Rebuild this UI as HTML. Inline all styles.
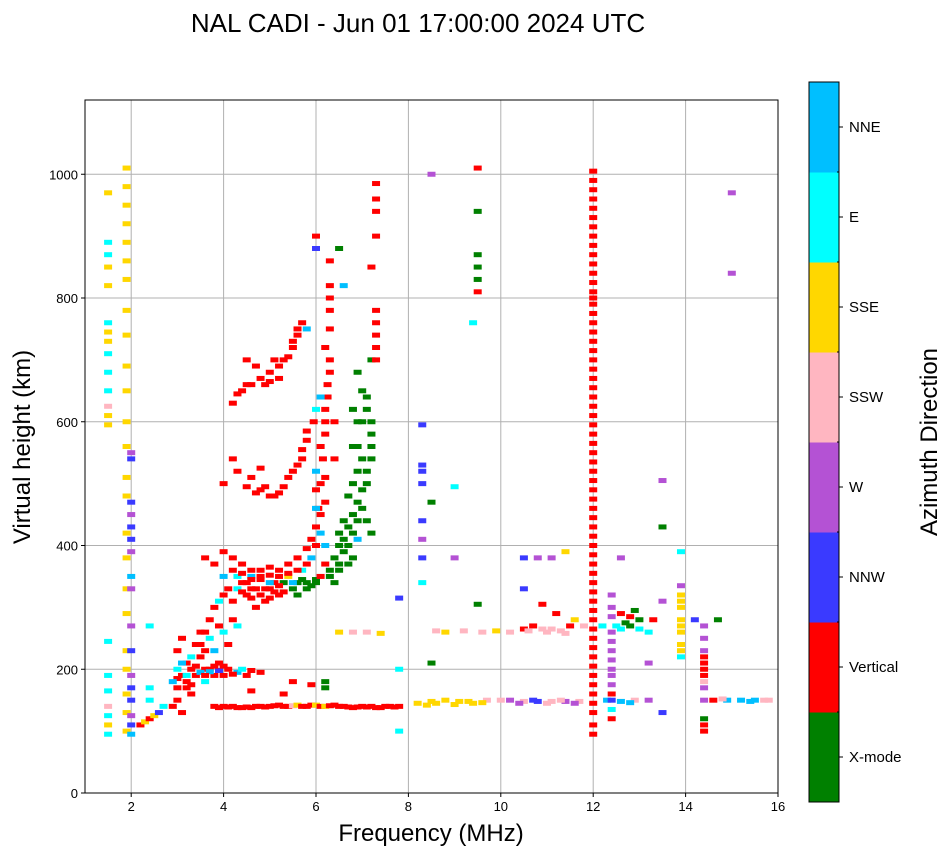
<!DOCTYPE html>
<html><head><meta charset="utf-8"><style>
html,body{margin:0;padding:0;background:#fff;}
svg text{font-family:"Liberation Sans",sans-serif;}
</style></head><body>
<svg id="chart" width="951" height="856" xmlns="http://www.w3.org/2000/svg">
<text x="418" y="32" font-size="26" text-anchor="middle">NAL CADI - Jun 01 17:00:00 2024 UTC</text>
<g id="grid"></g>
<g id="marks"></g>
<rect x="85" y="100" width="693" height="693" fill="none" stroke="#000" stroke-width="1"/>
<g id="axes"></g>
<text x="431" y="841" font-size="24" text-anchor="middle">Frequency (MHz)</text>
<text x="30" y="447" font-size="24" text-anchor="middle" transform="rotate(-90 30 447)">Virtual height (km)</text>
<g id="cbar"></g>
<text x="937" y="442" font-size="24" text-anchor="middle" transform="rotate(-90 937 442)">Azimuth Direction</text>
</svg>
<script>
const dirNames=["X-mode","Vertical","NNW","W","SSW","SSE","E","NNE"];
const dirColors=["#008000","#ff0000","#3a3aff","#b452d4","#ffb6c1","#ffd700","#00ffff","#00bfff"];
const xTicks=[2,4,6,8,10,12,14,16];
const yTicks=[0,200,400,600,800,1000];
// echoes: [freq MHz, height km, direction index]
const col15=[[1.5,95,6],[1.5,110,5],[1.5,125,6],[1.5,140,4],[1.5,165,6],[1.5,190,6],[1.5,245,6],[1.5,595,5],[1.5,610,5],[1.5,625,4],[1.5,650,6],[1.5,680,6],[1.5,710,6],[1.5,730,5],[1.5,745,5],[1.5,760,6],[1.5,820,5],[1.5,850,5],[1.5,870,6],[1.5,890,6],[1.5,970,5]];
const col19=[[1.9,100,5],[1.9,130,5],[1.9,160,5],[1.9,200,5],[1.9,230,5],[1.9,290,5],[1.9,330,5],[1.9,380,5],[1.9,420,5],[1.9,480,5],[1.9,510,5],[1.9,560,5],[1.9,600,5],[1.9,650,5],[1.9,690,5],[1.9,740,5],[1.9,780,5],[1.9,830,5],[1.9,860,5],[1.9,890,5],[1.9,920,5],[1.9,950,5],[1.9,980,5],[1.9,1010,5],
[2.0,95,7],[2.0,110,2],[2.0,125,3],[2.0,150,2],[2.0,170,2],[2.0,190,3],[2.0,230,2],[2.0,270,3],[2.0,330,3],[2.0,350,7],[2.0,390,3],[2.0,410,2],[2.0,430,2],[2.0,450,3],[2.0,470,2],[2.0,540,2],[2.0,550,3]];
const eLayer=[[2.2,110,1],[2.3,115,5],[2.4,120,1],[2.5,125,5],[2.6,130,2],[2.7,140,6],[2.4,150,6],[2.4,170,6],[2.4,270,6],[2.9,140,1],[3.0,150,1],[3.0,170,1],[3.1,190,1],[3.2,180,1],[3.2,210,1],[3.3,200,1],[3.4,190,1],[3.5,220,1],[3.6,180,6],[3.6,200,1],[3.7,200,1],[3.8,190,1],[3.9,210,1],[4.0,190,1],[3.3,160,1],[3.1,130,1],[3.0,200,6],[3.5,195,7],[3.7,196,7],[3.9,198,2],[4.1,200,1],[4.3,195,7],[4.5,190,1],[4.8,195,1],
[3.0,230,1],[3.1,250,1],[3.2,170,1],[3.3,220,6],[3.4,240,1],[3.5,260,1],[3.6,230,1],[3.7,250,6],[3.8,230,7],[3.9,270,1],[4.0,260,6],[4.1,240,1],[4.2,280,1],[4.3,270,6],[3.1,210,7],[3.2,190,6],[3.4,205,1],[3.6,190,1],[3.8,205,1],[4.0,205,1],[4.2,192,1],[4.4,200,6],[4.6,198,1],[3.0,185,1],[3.3,175,1],[2.9,180,7]];
const e2=[[3.8,140,1],[3.9,138,1],[4.0,140,1],[4.1,139,1],[4.2,140,1],[4.3,138,1],[4.4,138,1],[4.5,139,1],[4.6,138,1],[4.7,140,1],[4.8,140,1],[4.9,139,1],[5.0,140,1],[5.1,141,1],[5.2,142,1],[5.3,140,1],[5.4,140,1],[5.5,141,4],[5.6,142,5],[5.7,140,1],[5.8,140,1],[5.9,142,1],[6.0,142,5],[6.1,140,1],[6.2,140,5],[6.3,141,1],[6.4,142,1],[6.5,140,1],[6.6,140,1],[6.7,139,1],[6.8,138,1],[6.9,139,1],[7.0,140,1],[7.1,139,1],[7.2,140,1],[7.3,138,1],[7.4,138,1],[7.5,140,1],[7.6,140,1],[7.7,139,1],[7.8,140,1],[5.5,180,1],[5.9,175,1],[6.2,170,0],[6.2,180,0],[5.3,160,1],[4.6,165,1]];
const fTrace=[[3.5,240,1],[3.6,260,1],[3.7,280,1],[3.8,300,1],[3.9,310,6],[4.0,320,1],[4.1,330,1],[4.2,310,1],[4.3,330,6],[4.4,340,1],[4.5,320,1],[4.6,330,1],[4.7,300,1],[4.8,350,1],[4.9,310,1],[5.0,330,1],[5.1,340,1],[5.2,320,1],[5.3,340,0],[5.4,350,5],[5.5,330,0],[5.6,340,0],[5.7,345,0],[5.8,340,0],[6.0,345,0],[6.1,350,1],[6.2,370,1],[6.3,360,0],[6.4,380,0],[6.5,370,0],[6.6,390,0],[6.7,400,0],[6.8,420,0],[6.9,440,0],[7.0,460,0],[7.1,500,0],[7.2,540,0],[7.2,580,0],[7.1,620,0],[7.0,650,0],[6.9,680,0],[7.2,700,0],[6.8,560,0],[6.9,520,0],[6.7,480,0],[6.6,440,0],[6.5,420,0],[7.1,440,0],[7.2,420,0],[6.4,340,0],[6.8,380,0],
[4.4,325,1],[4.5,340,1],[4.6,315,1],[4.7,330,1],[4.8,320,1],[4.9,330,1],[5.0,315,1],[5.1,325,1],[5.2,335,1],[5.3,325,1],[5.6,320,0],[5.8,330,0],[5.9,335,0],[6.0,340,0],[6.3,350,0],[6.5,400,0],[6.6,410,0],[6.7,430,0],[6.8,450,0],[6.9,470,0],[7.0,490,0],[7.1,520,0],[7.2,560,0],[7.2,600,0],[7.1,640,0],[7.0,600,0],[6.9,600,0],[6.8,620,0],[6.9,560,0],[7.0,540,0],[6.8,500,0],[6.9,410,7],[6.7,370,0],[6.5,360,0]];
const f2Trace=[[3.6,380,1],[3.8,370,1],[4.0,390,1],[4.2,380,1],[4.4,370,1],[4.6,360,1],[4.8,360,1],[5.0,365,1],[5.2,360,1],[5.4,370,1],[5.6,380,1],[5.8,395,1],[5.9,410,1],[6.0,430,1],[6.05,460,1],[6.1,500,1],[6.15,540,1],[6.2,580,1],[6.2,620,1],[6.25,660,1],[6.3,700,1],[6.3,750,1],[6.3,800,1],[6.3,860,1],[6.0,460,7],[6.1,420,7],[5.9,380,7],[5.7,360,6],[5.5,340,7],[5.0,340,7],[4.6,350,7],[4.3,350,6],[4.0,350,7],[6.4,600,1],[6.4,540,1],[6.2,510,1],
[6.1,450,1],[6.2,470,1],[6.0,490,1],[6.1,560,1],[6.2,600,1],[6.25,640,1],[6.3,680,1],[6.2,720,1],[6.3,780,1],[6.3,820,1],[6.0,400,1],[5.8,370,1],[5.6,360,1],[5.4,355,1],[5.2,350,1],[5.0,352,1],[4.8,345,1],[4.6,345,1],[4.4,355,1],[4.2,360,1],[6.1,640,7],[6.0,620,6],[6.2,400,7],[6.0,520,7]];
const hop2=[[4.0,500,1],[4.3,520,1],[4.6,510,1],[4.8,490,1],[5.0,480,1],[5.2,485,1],[5.4,510,1],[5.5,520,1],[5.7,540,1],[5.8,570,1],[5.95,600,1],[4.8,525,1],[4.2,540,1],[4.4,650,1],[4.6,660,1],[4.8,670,1],[5.0,680,1],[5.1,700,1],[5.3,700,1],[5.5,720,1],[5.6,740,1],[5.7,760,1],[5.8,750,7],[4.2,630,1],[4.5,700,1],[4.9,660,1],[5.2,670,1],[6.0,900,1],[6.0,880,2],[6.5,880,0],[6.6,820,7],
[4.5,495,1],[4.7,485,1],[4.9,495,1],[5.1,480,1],[5.3,495,1],[5.6,530,1],[5.7,555,1],[5.8,585,1],[4.7,690,1],[5.0,665,1],[5.2,690,1],[5.4,705,1],[5.5,730,1],[5.6,750,1],[4.3,645,1],[4.5,660,1]];
const high=[[7.3,700,1],[7.3,720,1],[7.3,740,1],[7.3,760,1],[7.3,780,1],[7.3,900,1],[7.3,940,1],[7.3,960,1],[7.3,985,1],[7.2,850,1],[9.5,1010,1],[9.5,940,0],[9.5,870,0],[9.5,850,0],[9.5,830,0],[9.5,810,1],[9.4,760,6],[15.0,970,3],[15.0,840,3],[8.5,1000,3],[8.3,595,2],[8.3,530,2],[8.3,520,2],[8.3,500,2],[8.5,470,0],[9.0,495,6],[8.3,440,2],[8.3,410,3],[8.3,380,2],[9.0,380,3],[10.5,380,2],[10.8,380,3],[11.1,380,3],[11.4,390,5],[12.6,380,3],[13.5,505,3],[13.5,430,0],[10.5,330,2],[9.5,305,0],[8.3,340,6],[7.8,315,2],[7.8,200,6],[7.8,100,6],[8.5,210,0]];
const col12=[[12,95,1],[12,110,1],[12,130,1],[12,145,1],[12,160,1],[12,175,1],[12,190,1],[12,205,1],[12,220,1],[12,235,1],[12,250,1],[12,265,1],[12,280,1],[12,295,1],[12,310,1],[12,325,1],[12,340,1],[12,355,1],[12,370,1],[12,385,1],[12,400,1],[12,415,1],[12,430,1],[12,445,1],[12,460,1],[12,475,1],[12,490,1],[12,505,1],[12,520,1],[12,535,1],[12,550,1],[12,565,1],[12,580,1],[12,595,1],[12,610,1],[12,625,1],[12,640,1],[12,655,1],[12,670,1],[12,685,1],[12,700,1],[12,715,1],[12,730,1],[12,745,1],[12,760,1],[12,775,1],[12,790,1],[12,800,1],[12,810,1],[12,825,1],[12,840,1],[12,855,1],[12,870,1],[12,885,1],[12,900,1],[12,915,1],[12,930,1],[12,945,1],[12,960,1],[12,975,1],[12,990,1],[12,1005,1]];
const band260=[[6.5,260,5],[6.8,260,4],[7.1,260,4],[7.4,258,5],[8.6,262,4],[8.8,260,5],[9.2,262,4],[9.6,260,4],[9.9,262,5],[10.2,260,4],[10.5,265,1],[10.7,270,1],[10.9,265,4],[11.1,265,4],[11.3,262,4],[11.5,270,1],[11.2,290,1],[10.9,305,1],[11.6,280,5],[11.8,270,4],[12.2,270,6],[12.5,270,6],[12.8,270,0],[13.0,280,0],[12.6,290,1],[13.3,280,1],[13.5,310,3],[13.2,260,6],[12.4,320,3],[12.4,300,3],[12.4,285,3],[12.6,265,6],[12.8,285,1],[13.0,265,6],[12.9,295,0],[12.7,275,0],[11.0,260,4],[11.4,258,4],[10.6,262,4]];
const band150=[[8.2,145,5],[8.5,148,5],[8.8,150,5],[9.1,148,5],[9.4,145,5],[9.7,150,4],[10.2,150,3],[10.5,148,4],[10.8,148,2],[11.1,148,4],[11.4,148,3],[11.7,148,4],[12.3,150,7],[12.6,148,7],[12.9,150,4],[13.2,150,3],[14.6,150,1],[14.9,150,7],[15.2,150,7],[15.5,150,7],[15.8,150,4],[12.4,200,3],[12.4,230,3],[12.4,175,3],[12.4,120,1],[12.4,260,3],[13.5,130,2],[13.2,210,3],[13.9,220,6],[13.9,240,5],[13.9,260,5],[13.9,280,5],[13.9,300,5],[13.9,320,5],[13.9,335,3],[13.9,390,6],[14.4,100,1],[14.4,120,0],[14.4,150,3],[14.4,170,3],[14.4,190,1],[14.4,210,1],[14.4,230,3],[14.4,250,3],[14.4,270,3],[14.7,280,0],[14.2,280,2],
[8.4,142,5],[8.6,145,5],[9.0,143,5],[9.3,148,5],[9.6,146,5],[10.0,150,4],[10.4,145,3],[10.7,150,2],[11.0,145,4],[11.3,150,4],[11.6,145,3],[12.4,150,2],[12.8,146,7],[14.8,152,4],[15.4,148,7],[15.7,150,4],[12.4,215,3],[12.4,245,3],[12.4,190,3],[12.4,160,1],[12.4,135,6],[14.4,110,1],[14.4,200,1],[14.4,220,1],[14.4,180,4],[13.9,230,5],[13.9,310,5],[13.9,270,5]];
const groups=[col15,col19,eLayer,e2,fTrace,f2Trace,hop2,high,col12,band260,band150];

const X0=85,X1=778,Y0=793,Y1=100,FMIN=1,FMAX=16,HMIN=0,HMAX=1120;
const xs=f=>X0+(f-FMIN)/(FMAX-FMIN)*(X1-X0);
const ys=h=>Y0-(h-HMIN)/(HMAX-HMIN)*(Y0-Y1);
const NS="http://www.w3.org/2000/svg";
function mk(tag,attrs,parent){const e=document.createElementNS(NS,tag);for(const k in attrs)e.setAttribute(k,attrs[k]);parent.appendChild(e);return e;}
const grid=document.getElementById('grid'),axes=document.getElementById('axes'),marks=document.getElementById('marks'),cbar=document.getElementById('cbar');
xTicks.forEach(t=>{const x=xs(t);
 const g=mk('line',{x1:x,x2:x,y1:Y1,y2:Y0,stroke:'#b0b0b0','stroke-width':1},grid);
 
 mk('line',{x1:x,x2:x,y1:Y0,y2:Y0+4,stroke:'#000'},axes);
 const tx=mk('text',{x:x,y:Y0+18,'font-size':13,'text-anchor':'middle'},axes);tx.textContent=t;
 });
yTicks.forEach(t=>{const y=ys(t);
 const g=mk('line',{x1:X0,x2:X1,y1:y,y2:y,stroke:'#b0b0b0','stroke-width':1},grid);
 
 mk('line',{x1:X0-4,x2:X0,y1:y,y2:y,stroke:'#000'},axes);
 const tx=mk('text',{x:X0-7,y:y+5,'font-size':13,'text-anchor':'end'},axes);tx.textContent=t;
 });
groups.forEach(g=>g.forEach(p=>{
 const x=xs(p[0]),y=ys(p[1]);
 const r=mk('rect',{x:x-4,y:y-2.5,width:8,height:5,fill:dirColors[p[2]]},marks);
 
 }));
const CB_X=809,CB_W=30,CB_T=82,CB_B=802,seg=(CB_B-CB_T)/dirNames.length;
dirNames.forEach((n,i)=>{const y=CB_B-(i+1)*seg;
 const r=mk('rect',{x:CB_X,y:y,width:CB_W,height:seg+0.5,fill:dirColors[i]},cbar);
 
 mk('line',{x1:CB_X+CB_W,x2:CB_X+CB_W+4,y1:y+seg/2,y2:y+seg/2,stroke:'#000'},cbar);
 if(i>0)mk('line',{x1:CB_X+CB_W-2,x2:CB_X+CB_W,y1:CB_B-i*seg,y2:CB_B-i*seg,stroke:'#000'},cbar);
 const t=mk('text',{x:CB_X+CB_W+10,y:y+seg/2+5,'font-size':15},cbar);t.textContent=n;
 });
mk('rect',{x:CB_X,y:CB_T,width:CB_W,height:CB_B-CB_T,fill:'none',stroke:'#000'},cbar);
</script>
</body></html>
